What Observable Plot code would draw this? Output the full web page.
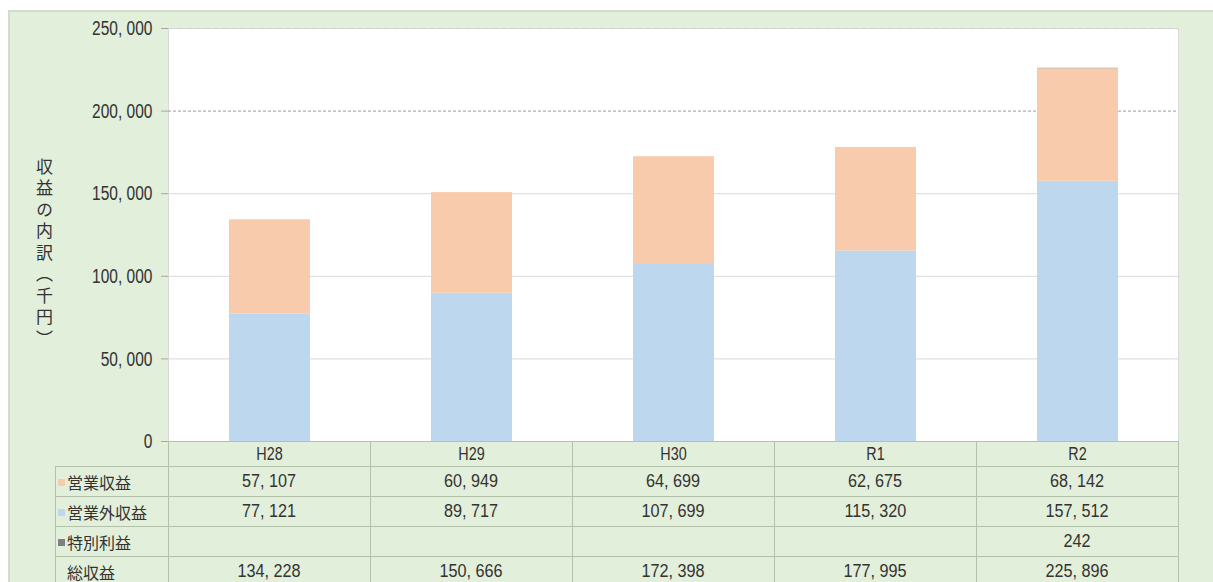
<!DOCTYPE html>
<html>
<head>
<meta charset="utf-8">
<script src="https://cdn.jsdelivr.net/npm/d3@7"></script>
<script src="https://cdn.jsdelivr.net/npm/@observablehq/plot@0.6"></script>
<style>
  body { margin: 0; background: #ffffff; width: 1213px; height: 582px; overflow: hidden; position: relative; }
  #panel { position: absolute; left: 8px; top: 10px; width: 1205px; height: 572px; background: #e2efda; border-top: 2px solid #d3dbcf; border-left: 2px solid #d3dbcf; box-sizing: border-box; }
  #chart { position: absolute; left: 0; top: 0; }
  #ytitle { position: absolute; left: 36px; top: 158px; writing-mode: vertical-rl; text-orientation: upright; font-family: "Noto Sans CJK JP", sans-serif; font-size: 17px; letter-spacing: 4.5px; color: #333; line-height: 1; }
  #tbl { position: absolute; left: 55px; top: 441px; border-collapse: collapse; table-layout: fixed; font-family: "Liberation Sans", Arial, sans-serif; }
  #tbl td { border: 1px solid #b4c2ab; padding: 0; text-align: center; color: #333; font-size: 18px; }
  #tbl td.lab { text-align: left; font-family: "Noto Sans CJK JP", sans-serif; font-size: 16px; padding-left: 2px; white-space: nowrap; }
  #tbl tr.head td { height: 24px; }
  #tbl tr.row td { height: 29px; }
  #tbl td.blank { border: none; border-right: 1px solid #b4c2ab; }
  .num { display: inline-block; transform: scaleX(0.9); transform-origin: center; }
  .mk { display: inline-block; width: 7px; height: 7px; margin-right: 2px; vertical-align: 3px; }
</style>
</head>
<body>
<div id="panel"></div>
<div id="chart"></div>
<div id="ytitle">収益の内訳（千円）</div>
<table id="tbl"></table>
<script>
// ---- data ----
const years = ["H28", "H29", "H30", "R1", "R2"];
const series = ["営業収益", "営業外収益", "特別利益"];
const eigyo = [57107, 60949, 64699, 62675, 68142];          // 営業収益
const eigyogai = [77121, 89717, 107699, 115320, 157512];    // 営業外収益
const tokubetsu = [null, null, null, null, 242];            // 特別利益
const total = [134228, 150666, 172398, 177995, 225896];     // 総収益
const yTicks = [0, 50000, 100000, 150000, 200000, 250000];
const colors = ["#f8cbad", "#bdd7ee", "#808080"];

const fmt = v => v == null ? "" : d3.format(",")(v).replace(/,/g, ", ");

const rows = [];
years.forEach((y, i) => {
  rows.push({year: y, series: "営業外収益", value: eigyogai[i]});
  rows.push({year: y, series: "営業収益", value: eigyo[i]});
  if (tokubetsu[i] != null) rows.push({year: y, series: "特別利益", value: tokubetsu[i]});
});

const chart = Plot.plot({
  width: 1213,
  height: 452,
  marginLeft: 168,
  marginRight: 35,
  marginTop: 28,
  marginBottom: 11,
  style: { background: "none", fontSize: "21px", color: "#333", fontFamily: '"Liberation Sans", Arial, sans-serif' },
  x: { domain: years, paddingInner: 0.6, paddingOuter: 0.3, axis: null },
  y: { domain: [0, 250000], ticks: yTicks, tickFormat: fmt, label: null, tickSize: 7, tickPadding: 9 },
  color: { domain: series, range: colors },
  marks: [
    Plot.frame({ fill: "white", stroke: "#d9d9d9" }),
    Plot.ruleY([50000, 100000, 150000], { stroke: "#d9d9d9" }),
    Plot.ruleY([250000], { stroke: "#d0d0d0", strokeDasharray: "6,3" }),
    Plot.ruleY([200000], { stroke: "#9a9a9a", strokeDasharray: "3,2" }),
    Plot.barY(rows, Plot.stackY({
      x: "year", y: "value", fill: "series",
      order: ["営業外収益", "営業収益", "特別利益"]
    })),
    Plot.ruleY([0], { stroke: "#bfbfbf" })
  ]
});
// condense y tick labels horizontally (anchored at their right edge)
chart.querySelectorAll("g[aria-label='y-axis tick label'] text").forEach(t => {
  let tr = t.getAttribute("transform") || "";
  const x = t.getAttribute("x");
  if (x != null && !isNaN(+x)) { tr += ` translate(${x},0)`; t.removeAttribute("x"); }
  const y = t.getAttribute("y");
  if (y != null && !isNaN(+y)) { tr += ` translate(0,${y})`; t.removeAttribute("y"); }
  t.setAttribute("transform", (tr + " scale(0.74,1)").trim());
});
chart.querySelectorAll("g[aria-label='y-axis tick'] path").forEach(p => p.setAttribute("stroke", "#a6a6a6"));
document.getElementById("chart").appendChild(chart);

// ---- data table ----
const tbl = document.getElementById("tbl");
const colgroup = document.createElement("colgroup");
colgroup.innerHTML = '<col style="width:113px">' + years.map(() => '<col style="width:202px">').join("");
tbl.appendChild(colgroup);
const head = document.createElement("tr");
head.className = "head";
head.innerHTML = '<td class="blank"></td>' + years.map(y => `<td><span class="num" style="transform:scaleX(0.8)">${y}</span></td>`).join("");
tbl.appendChild(head);
const tableRows = [
  { label: "営業収益", color: colors[0], vals: eigyo },
  { label: "営業外収益", color: colors[1], vals: eigyogai },
  { label: "特別利益", color: colors[2], vals: tokubetsu },
  { label: "総収益", color: null, vals: total }
];
tableRows.forEach(r => {
  const tr = document.createElement("tr");
  tr.className = "row";
  const mk = r.color ? `<span class="mk" style="background:${r.color}"></span>` : `<span class="mk"></span>`;
  tr.innerHTML = `<td class="lab">${mk}${r.label}</td>` + r.vals.map(v => `<td><span class="num">${fmt(v)}</span></td>`).join("");
  tbl.appendChild(tr);
});
</script>
</body>
</html>
